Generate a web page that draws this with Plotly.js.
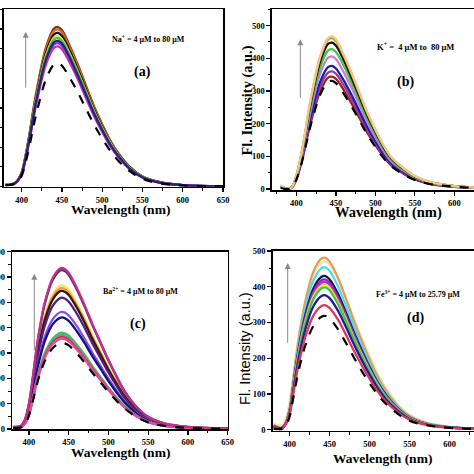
<!DOCTYPE html>
<html><head><meta charset="utf-8">
<script src="https://cdn.plot.ly/plotly-3.0.1.min.js"></script>
<style>html,body{margin:0;padding:0;background:#fff;}#chart{width:474px;height:474px;}</style>
</head><body><div id="chart"></div>
<script>
// ---------- data ----------
const wavelength = [380,390,395,400,405,410,415,420,430,440,445,450,460,470,480,490,500,510,520,535,550,570,600,650];

// (a) Na+
const na0 = [4,6,13,28,63,106,157,200,272,310,313,307,275,238,197,157,122,91,66,38,20,9,3,1];
const na1 = [4,7,14,32,71,121,178,228,310,352,356,349,313,271,224,178,139,103,75,43,23,11,4,1];
const na2 = [4,7,15,33,73,124,182,233,317,360,364,357,320,277,229,182,142,106,76,44,24,11,4,1];
const na3 = [4,7,15,33,74,126,185,237,322,366,370,363,326,281,233,185,144,107,78,44,24,11,4,1];
const na4 = [5,8,15,34,75,128,189,241,328,373,377,369,332,287,238,189,147,109,79,45,25,11,4,1];
const na5 = [5,8,15,34,76,130,191,244,332,378,382,374,336,290,241,191,149,111,80,46,25,11,4,1];
const na6 = [5,8,16,35,78,133,195,250,339,386,390,382,343,296,246,195,152,113,82,47,25,12,4,1];
const na7 = [5,8,16,36,80,136,200,255,347,395,399,391,351,303,251,200,156,116,84,48,26,12,4,1];
const na8 = [5,8,16,36,81,138,203,259,352,401,405,397,356,308,255,203,158,117,85,49,26,12,4,1];

// (b) K+
const k0 = [3,0,7,30,66,113,166,212,288,328,331,324,291,252,209,166,129,96,70,46,28,15,7,2];
const k1 = [7,0,7,31,69,117,172,220,299,341,344,337,303,261,217,172,134,100,72,48,29,15,7,2];
const k2 = [7,0,7,32,72,122,180,230,313,356,360,353,317,274,227,180,140,104,76,50,31,16,7,2];
const k3 = [8,0,8,34,75,128,189,241,328,373,377,369,332,287,238,189,147,109,79,53,32,17,8,2];
const k4 = [8,0,8,37,81,138,203,260,353,402,406,398,357,309,256,203,158,118,85,57,35,18,8,2];
const k5 = [9,0,9,39,86,146,214,274,372,424,428,419,377,325,270,214,167,124,90,60,36,19,9,2];
const k6 = [9,0,9,40,90,152,224,287,390,444,448,439,394,340,282,224,175,130,94,63,38,20,9,2];
const k7 = [9,0,9,42,92,157,231,296,402,457,462,453,407,351,291,231,180,134,97,65,39,21,9,2];
const k8 = [12,0,9,42,93,159,234,299,406,462,467,458,411,355,294,234,182,135,98,65,40,21,9,2];

// (c) Ba2+
const ba0 = [4,7,20,54,112,177,228,269,320,340,338,330,299,262,221,184,146,112,82,48,26,12,4,1];
const ba1 = [4,7,21,57,118,186,239,282,336,357,355,346,314,275,232,193,154,118,86,50,27,12,4,1];
const ba2 = [4,7,22,58,120,189,244,288,342,364,362,353,320,280,237,197,157,120,87,51,27,13,4,1];
const ba3 = [4,7,22,60,123,193,249,294,350,372,370,361,327,286,242,201,160,123,89,52,28,13,4,1];
const ba4 = [5,8,23,61,125,198,255,300,357,380,378,369,334,293,247,205,163,125,91,53,29,13,5,1];
const ba5 = [5,9,26,70,145,229,295,348,414,440,438,427,387,339,286,238,189,145,106,62,33,15,5,1];
const ba6 = [6,9,28,74,152,240,310,365,434,462,460,448,407,356,300,249,199,152,111,65,35,16,6,1];
const ba7 = [6,10,31,83,171,269,347,409,487,518,515,502,456,399,337,280,223,171,124,73,39,18,6,2];
const ba8 = [7,11,33,87,180,283,365,431,512,545,542,529,480,420,354,294,234,180,131,76,41,19,7,2];
const ba9 = [7,11,33,89,183,289,373,439,523,556,553,539,489,428,361,300,239,183,133,78,42,19,7,2];
const ba10 = [7,11,34,91,187,294,379,447,532,566,563,549,498,436,368,306,243,187,136,79,42,20,7,2];
const ba11 = [8,13,38,100,207,326,420,495,589,627,624,608,552,483,408,339,270,207,150,88,47,22,8,2];
const ba12 = [8,13,38,102,210,330,425,502,597,635,632,616,559,489,413,343,273,210,152,89,48,22,8,2];

// (d) Fe3+
const fe0 = [3,2,10,35,92,150,198,237,291,316,318,312,283,245,204,165,130,99,73,45,25,13,5,1];
const fe1 = [9,1,14,42,104,167,219,261,320,346,348,341,310,268,223,181,143,108,80,49,28,14,5,1];
const fe2 = [9,4,15,45,113,180,237,282,346,374,376,368,335,290,241,196,154,117,86,53,30,15,6,2];
const fe3 = [10,4,16,48,119,191,251,299,366,396,398,390,354,306,255,207,163,123,92,56,32,16,6,2];
const fe4 = [10,4,16,49,122,194,255,304,373,403,405,397,360,312,259,211,166,126,93,57,32,16,6,2];
const fe5 = [10,4,17,50,124,198,260,310,380,411,413,405,368,318,264,215,169,128,95,58,33,17,6,2];
const fe6 = [11,4,17,50,126,202,265,315,386,418,420,412,374,323,269,218,172,130,97,59,34,17,6,2];
const fe7 = [11,4,17,52,129,206,271,323,396,428,430,421,383,331,275,224,176,133,99,60,34,17,6,2];
const fe8 = [11,5,18,54,136,218,286,341,418,452,454,445,404,350,291,236,186,141,104,64,36,18,7,2];
const fe9 = [12,5,19,58,144,231,303,361,443,479,481,471,428,370,308,250,197,149,111,67,38,19,7,2];
const fe10 = [18,12,28,75,160,240,305,358,435,468,470,462,425,372,313,258,206,158,118,73,42,21,8,2];

// ---------- styling ----------
const SERIF = 'Liberation Serif, Times New Roman, serif';
const traces = [];
function add(y, color, xa, ya, dash, w) {
  traces.push({x: wavelength, y: y, type: 'scatter', mode: 'lines',
    xaxis: xa, yaxis: ya, showlegend: false, hoverinfo: 'skip',
    line: {color: color, width: w || 2.3, dash: dash || 'solid', shape: 'spline', smoothing: 1}});
}
// (a)
[[na8,'#7a3b12'],[na7,'#e0652a'],[na6,'#111111'],[na5,'#e2e04a'],[na4,'#3ec43e'],
 [na2,'#8a3ad8'],[na1,'#c02cc0'],[na3,'#26237a']].forEach(s => add(s[0], s[1], 'x', 'y'));
add(na0, '#000000', 'x', 'y', 'dash', 2.2);
// (b)
[[k1,'#9a2222'],[k2,'#9a3aa0'],[k3,'#1c1ca8'],[k4,'#c77ae6'],[k5,'#44c444'],
 [k6,'#111111'],[k7,'#b8a022'],[k8,'#f3c48c']].forEach(s => add(s[0], s[1], 'x2', 'y2'));
add(k0, '#000000', 'x2', 'y2', 'dash', 2.2);
// (c)
[[ba10,'#f3e468'],[ba9,'#f39a3a'],[ba8,'#2a1a10'],[ba7,'#5a1a7a'],[ba6,'#8a4ae6'],[ba5,'#12127a'],
 [ba4,'#44c444'],[ba3,'#4aaab0'],[ba2,'#e03434'],[ba1,'#e04aa8'],[ba11,'#5a2a6a'],[ba12,'#c0308c']]
 .forEach(s => add(s[0], s[1], 'x3', 'y3'));
add(ba0, '#000000', 'x3', 'y3', 'dash', 2.2);
// (d)
[[fe10,'#fbe0a8'],[fe9,'#e39a5a'],[fe8,'#4ae0e6'],[fe7,'#12125a'],[fe6,'#7a34a8'],[fe5,'#d424c4'],
 [fe4,'#e6e64a'],[fe3,'#44c444'],[fe2,'#1c1c9a'],[fe1,'#d8385e']].forEach(s => add(s[0], s[1], 'x4', 'y4'));
add(fe0, '#000000', 'x4', 'y4', 'dash', 2.2);

const px = v => v / 474, py = v => 1 - v / 474;
function axis(domain, range, dtick, minor, mirror, anchor) {
  return {domain: domain, range: range, dtick: dtick, tick0: 0, anchor: anchor,
    showline: true, linecolor: '#000', linewidth: 1.6, mirror: mirror,
    ticks: 'outside', ticklen: 4, tickwidth: 1.3, tickcolor: '#000',
    minor: {dtick: minor, tick0: 0, ticks: 'outside', ticklen: 2.5, tickwidth: 1, tickcolor: '#000'},
    tickfont: {family: SERIF, size: 8.5, color: '#000', weight: 'bold'},
    showgrid: false, zeroline: false, fixedrange: true, automargin: false};
}
const layout = {
  width: 474, height: 474, margin: {l: 0, r: 0, t: 0, b: 0},
  paper_bgcolor: '#fff', plot_bgcolor: '#fff', showlegend: false,
  xaxis:  axis([px(4), px(223)], [378, 650], 50, 25, true, 'y'),
  yaxis:  axis([py(186.7), py(9.3)], [0, 450], 100, 50, true, 'x'),
  xaxis2: axis([px(272), 1], [369, 625], 50, 25, true, 'y2'),
  yaxis2: axis([py(190), py(9.3)], [-3, 550], 100, 50, false, 'x2'),
  xaxis3: axis([px(12.3), px(227.7)], [379, 650], 50, 25, true, 'y3'),
  yaxis3: axis([py(429), py(251.7)], [0, 700], 100, 50, true, 'x3'),
  xaxis4: axis([px(272.7), 1], [379, 630.6], 50, 25, true, 'y4'),
  yaxis4: axis([py(430.7), py(251)], [-3, 500], 100, 50, false, 'x4'),
  annotations: []
};
function txt(t, x, y, size, fam, angle) {
  layout.annotations.push({text: t, x: px(x), y: py(y), xref: 'paper', yref: 'paper',
    xanchor: 'center', yanchor: 'middle', showarrow: false, textangle: angle || 0,
    font: {family: fam || SERIF, size: size, color: '#000'}});
}
function arrow(x, yHead, yTail) {
  layout.annotations.push({text: '', x: px(x), y: py(yHead), xref: 'paper', yref: 'paper',
    showarrow: true, ax: 0, ay: yTail - yHead, arrowhead: 2, arrowsize: 1.2, arrowwidth: 1,
    arrowcolor: '#8a8a8a'});
}
// axis titles
txt('<b>Wavelength (nm)</b>', 120, 210, 13.5);
txt('<b>Wavelength (nm)</b>', 388, 212.5, 14.5);
txt('<b>Wavelength (nm)</b>', 120, 452, 13.5);
txt('<b>Wavelength (nm)</b>', 382, 458.5, 13.5);
txt('<b>Fl. Intensity (a.u.)</b>', 247, 100.5, 14.4, SERIF, -90);
txt('Fl. Intensity (a.u.)', 244.5, 348.5, 14.6, 'Liberation Sans, Arial, sans-serif', -90);
// in-plot labels
txt('<b>Na<sup>+</sup> = 4 μM to 80 μM</b>', 148, 39.3, 8);
txt('<b>(a)</b>', 142.7, 71.7, 14);
txt('<b>K<sup>+</sup> =  4 μM to  80 μM</b>', 415.3, 46.7, 8.5);
txt('<b>(b)</b>', 405.3, 81.7, 14);
txt('<b>Ba<sup>2+</sup> = 4 μM to 80 μM</b>', 140.3, 291.3, 8);
txt('<b>(c)</b>', 137.5, 324.3, 14);
txt('<b>Fe<sup>3+</sup> = 4 μM to 25.79 μM</b>', 417.8, 294.3, 8);
txt('<b>(d)</b>', 415.3, 318, 14);
arrow(25.7, 31.7, 89);
arrow(300.3, 39.3, 99.3);
arrow(34.3, 273.7, 352);
arrow(287.7, 263, 344.3);

Plotly.newPlot('chart', traces, layout, {staticPlot: true, displayModeBar: false});
</script>
</body></html>
